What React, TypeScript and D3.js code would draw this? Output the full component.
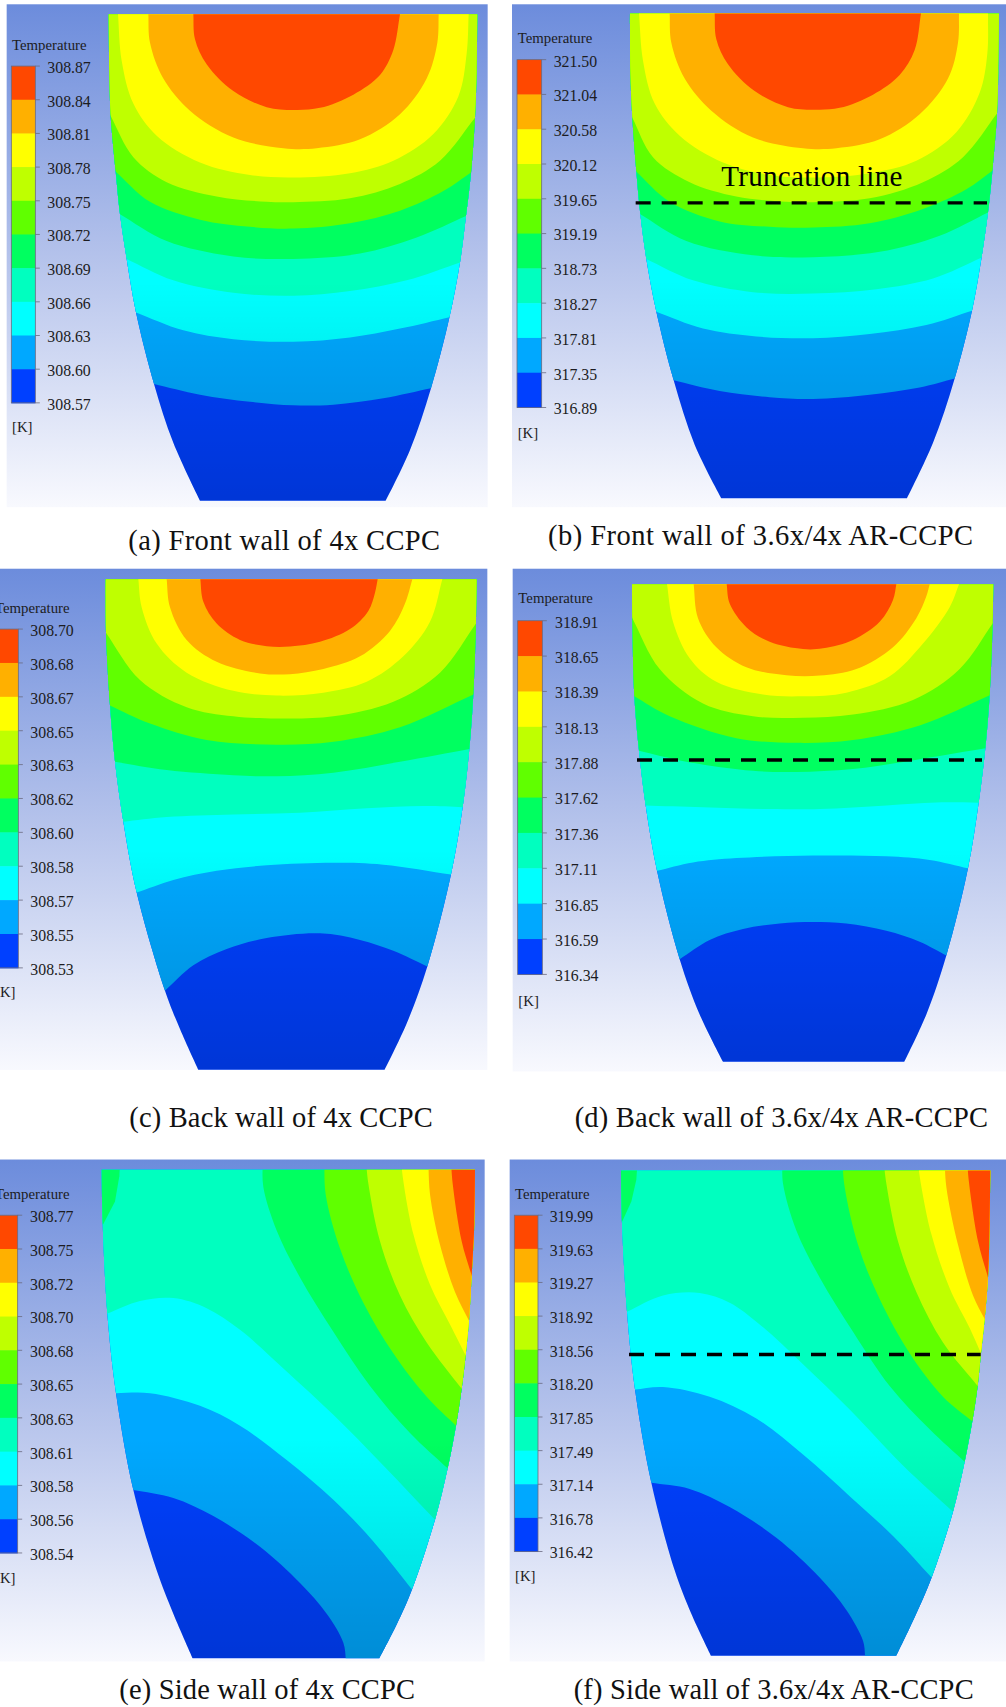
import React from "react";
import * as d3 from "d3";

type Pt = [number, number];

// Band colours, coldest to hottest
const bandColors = ["#0040ff", "#00a8ff", "#00ffff", "#00ffbf", "#00ff60", "#60ff00", "#bfff00", "#ffff00", "#ffb000", "#ff4800"];

// Legend tick labels, top to bottom
const ticksA = ["308.87", "308.84", "308.81", "308.78", "308.75", "308.72", "308.69", "308.66", "308.63", "308.60", "308.57"];
const ticksB = ["321.50", "321.04", "320.58", "320.12", "319.65", "319.19", "318.73", "318.27", "317.81", "317.35", "316.89"];
const ticksC = ["308.70", "308.68", "308.67", "308.65", "308.63", "308.62", "308.60", "308.58", "308.57", "308.55", "308.53"];
const ticksD = ["318.91", "318.65", "318.39", "318.13", "317.88", "317.62", "317.36", "317.11", "316.85", "316.59", "316.34"];
const ticksE = ["308.77", "308.75", "308.72", "308.70", "308.68", "308.65", "308.63", "308.61", "308.58", "308.56", "308.54"];
const ticksF = ["319.99", "319.63", "319.27", "318.92", "318.56", "318.20", "317.85", "317.49", "317.14", "316.78", "316.42"];

// Wall outlines
const leftA: Pt[] = [[326,40],[328,200],[332,325],[347,480],[360,600],[380,725],[408,875],[462,1075],[520,1240],[600,1402]];
const rightA: Pt[] = [[1432,40],[1430,200],[1425,330],[1413,485],[1398,605],[1380,735],[1348,890],[1293,1087],[1230,1260],[1157,1402]];
const leftB: Pt[] = [[381,38],[382,200],[388,330],[400,480],[412,600],[430,725],[460,873],[512,1065],[575,1245],[655,1395]];
const rightB: Pt[] = [[1488,38],[1486,200],[1482,320],[1468,480],[1455,595],[1435,725],[1407,870],[1355,1060],[1290,1240],[1212,1395]];
const leftC: Pt[] = [[317,53],[318,200],[330,400],[345,555],[370,720],[410,915],[495,1185],[540,1290],[595,1402]];
const rightC: Pt[] = [[1430,53],[1428,175],[1420,370],[1408,520],[1388,680],[1353,865],[1282,1118],[1220,1275],[1154,1402]];
const leftD: Pt[] = [[387,67],[388,160],[394,375],[408,525],[428,675],[462,855],[530,1098],[590,1250],[660,1380]];
const rightD: Pt[] = [[1471,67],[1469,175],[1460,372],[1447,518],[1427,668],[1395,848],[1330,1088],[1270,1250],[1204,1380]];
const leftE: Pt[] = [[305,82],[308,230],[322,480],[348,700],[400,968],[470,1190],[520,1310],[578,1433]];
const rightE: Pt[] = [[1425,82],[1423,230],[1415,375],[1407,500],[1397,595],[1385,688],[1368,790],[1343,908],[1305,1050],[1236,1243],[1190,1340],[1138,1433]];
const leftF: Pt[] = [[354,84],[357,230],[372,475],[396,690],[445,948],[515,1190],[565,1310],[624,1426]];
const rightF: Pt[] = [[1462,84],[1460,230],[1455,380],[1445,495],[1434,590],[1424,680],[1408,778],[1385,890],[1350,1028],[1286,1210],[1235,1320],[1180,1426]];

// Isotherms, coldest to hottest
const contoursA: Pt[][] = [
  [[462,1075],[600,1105],[750,1125],[880,1135],[1000,1133],[1150,1115],[1293,1087]],
  [[408,875],[550,925],[700,950],[880,957],[1050,945],[1200,920],[1348,888]],
  [[380,725],[520,785],[700,820],[880,828],[1050,815],[1220,785],[1380,735]],
  [[360,600],[500,675],[700,718],[880,725],[1080,710],[1250,665],[1398,605]],
  [[347,480],[450,565],[600,615],[750,635],[880,640],[1050,625],[1200,590],[1330,535],[1413,483]],
  [[332,325],[400,440],[500,510],[650,550],[800,565],[880,566],[1050,555],[1200,515],[1320,450],[1425,330]],
  [[354,40],[365,170],[400,290],[470,380],[600,455],[750,490],[880,497],[1050,485],[1180,450],[1300,375],[1375,270],[1400,150],[1406,40]],
  [[445,40],[450,120],[490,220],[570,310],[700,385],[850,415],[950,415],[1080,390],[1200,320],[1280,220],[1312,120],[1316,40]],
  [[580,40],[585,110],[620,180],[700,255],[800,300],[880,308],[960,302],[1060,265],[1140,210],[1180,140],[1200,40]],
];
const contoursB: Pt[][] = [
  [[512,1065],[650,1095],[800,1112],[930,1117],[1100,1105],[1250,1085],[1355,1060]],
  [[460,873],[600,920],[760,942],[930,947],[1100,935],[1270,910],[1407,870]],
  [[430,725],[570,785],[750,818],[930,822],[1120,810],[1290,780],[1435,722]],
  [[412,600],[550,675],[750,715],[930,720],[1130,705],[1310,660],[1455,595]],
  [[400,480],[500,565],[650,620],[800,635],[930,637],[1100,625],[1260,585],[1390,530],[1468,478]],
  [[388,330],[450,440],[560,510],[700,550],[850,565],[930,566],[1100,555],[1260,510],[1380,440],[1482,318]],
  [[408,38],[420,170],[455,290],[530,380],[660,455],[800,490],[930,497],[1100,485],[1240,450],[1360,370],[1430,260],[1453,150],[1455,38]],
  [[500,38],[505,120],[545,220],[625,310],[750,385],[900,415],[1000,415],[1130,390],[1250,320],[1335,220],[1365,120],[1368,38]],
  [[635,38],[640,110],[675,180],[755,255],[855,300],[930,307],[1010,302],[1110,265],[1190,210],[1235,140],[1254,38]],
];
const contoursC: Pt[][] = [
  [[495,1185],[580,1115],[680,1070],[800,1040],[960,1027],[1080,1045],[1180,1075],[1282,1118]],
  [[410,915],[520,880],[650,855],[800,840],[1000,833],[1150,838],[1353,865]],
  [[370,720],[500,707],[700,700],[900,695],[1100,683],[1270,677],[1388,680]],
  [[345,555],[500,578],[700,592],[830,595],[1000,585],[1200,555],[1408,520]],
  [[330,400],[450,450],[620,495],[830,508],[1000,500],[1200,460],[1420,370]],
  [[318,200],[420,330],[560,405],[700,430],[830,436],[1000,430],[1180,390],[1320,310],[1428,175]],
  [[415,53],[425,130],[470,230],[560,310],[700,360],[830,373],[970,365],[1100,335],[1210,265],[1290,170],[1327,53]],
  [[500,53],[510,130],[560,220],[650,280],[780,312],[870,314],[970,300],[1080,265],[1170,195],[1215,120],[1237,53]],
  [[601,53],[610,115],[650,175],[720,220],[800,237],[870,238],[960,225],[1050,190],[1105,140],[1125,90],[1133,53]],
];
const contoursD: Pt[][] = [
  [[530,1098],[620,1045],[720,1015],[830,1000],[930,996],[1030,1000],[1150,1020],[1250,1050],[1330,1088]],
  [[462,855],[570,832],[700,820],[930,813],[1150,815],[1280,825],[1395,848]],
  [[428,675],[600,680],[800,685],[950,685],[1150,675],[1300,667],[1427,668]],
  [[408,525],[550,555],[750,580],[880,583],[1050,575],[1250,548],[1447,518]],
  [[394,375],[500,430],[700,490],[880,503],[1050,495],[1250,455],[1460,372]],
  [[388,160],[470,300],[600,395],[750,430],[900,434],[1050,425],[1230,385],[1370,300],[1469,175]],
  [[492,67],[510,170],[560,270],[640,335],[780,370],[900,375],[1030,365],[1160,320],[1260,230],[1340,130],[1368,67]],
  [[572,67],[585,160],[640,240],[730,295],[850,317],[950,318],[1060,300],[1170,240],[1240,160],[1270,100],[1280,67]],
  [[671,67],[680,120],[730,185],[800,225],[900,245],[960,243],[1050,220],[1130,170],[1170,110],[1180,67]],
];
const contoursE: Pt[][] = [
  [[400,968],[520,990],[640,1040],[780,1125],[900,1225],[980,1310],[1030,1390],[1037,1433],[1037,1460]],
  [[348,700],[450,700],[600,735],[720,790],[860,885],[1000,995],[1120,1110],[1236,1243]],
  [[322,480],[420,445],[520,437],[620,465],[720,525],[860,640],[1000,760],[1150,900],[1305,1050]],
  [[788,60],[790,130],[830,250],[900,380],[1000,530],[1110,680],[1230,810],[1343,908]],
  [[973,60],[977,150],[1020,300],[1090,450],[1180,590],[1280,710],[1368,790]],
  [[1098,60],[1105,120],[1140,280],[1200,430],[1280,560],[1385,688]],
  [[1204,60],[1208,100],[1240,260],[1290,400],[1350,510],[1397,595]],
  [[1285,60],[1290,150],[1320,290],[1365,420],[1407,500]],
  [[1353,60],[1358,120],[1385,280],[1415,375]],
];
const contoursF: Pt[][] = [
  [[445,948],[560,965],[680,1015],[820,1100],[950,1210],[1030,1300],[1080,1385],[1086,1426],[1086,1460]],
  [[396,690],[480,683],[620,710],[760,770],[900,870],[1040,985],[1170,1095],[1286,1210]],
  [[372,475],[480,430],[590,423],[680,450],[770,510],[900,620],[1040,745],[1200,900],[1350,1028]],
  [[838,60],[840,120],[880,250],[950,380],[1050,530],[1160,680],[1280,800],[1385,890]],
  [[1018,60],[1025,130],[1065,290],[1130,440],[1220,590],[1320,710],[1408,778]],
  [[1142,60],[1150,120],[1185,280],[1240,420],[1320,560],[1424,680]],
  [[1245,60],[1250,100],[1285,260],[1340,410],[1400,520],[1434,590]],
  [[1325,60],[1330,130],[1365,290],[1410,430],[1445,495]],
  [[1393,60],[1397,110],[1425,280],[1455,380]],
];

// Small warm pocket in the top-left corner of the side walls
const patchE: Pt[] = [[250,40],[362,40],[358,100],[345,170],[310,232],[250,270]];
const patchF: Pt[] = [[300,40],[405,40],[400,110],[385,170],[358,225],[300,260]];

const panels = [
  { id: "a", ox: 0, oy: 0, h: 560, frame: [20, 12, 1463, 1420], left: leftA, right: rightA, contours: contoursA, ticks: ticksA,
    bar: [34, 106, 185, 1128], tickX: 142, title: [36, 127], unit: [36, 1197],
    caption: "(a) Front wall of 4x CCPC", cap: [385, 1540, 935] },
  { id: "b", ox: 503, oy: 0, h: 560, frame: [27, 12, 1509, 1420], left: leftB, right: rightB, contours: contoursB, ticks: ticksB,
    bar: [42, 116, 167, 1141], tickX: 152, title: [44, 107], unit: [44, 1215],
    caption: "(b) Front wall of 3.6x/4x AR-CCPC", cap: [135, 1525, 1275], dash: [398, 1452, 568] },
  { id: "c", ox: 0, oy: 560, h: 570, frame: [0, 24, 1462, 1403], left: leftC, right: rightC, contours: contoursC, ticks: ticksC,
    bar: [-20, 55, 190, 1122], tickX: 91, title: [-15, 133], unit: [-15, 1190],
    caption: "(c) Back wall of 4x CCPC", cap: [388, 1560, 910] },
  { id: "d", ox: 503, oy: 560, h: 570, frame: [29, 24, 1509, 1407], left: leftD, right: rightD, contours: contoursD, ticks: ticksD,
    bar: [44, 118, 167, 1140], tickX: 156, title: [46, 107], unit: [46, 1214],
    caption: "(d) Back wall of 3.6x/4x AR-CCPC", cap: [215, 1560, 1240], dash: [402, 1437, 550] },
  { id: "e", ox: 0, oy: 1140, h: 567, frame: [0, 54, 1454, 1442], left: leftE, right: rightE, contours: contoursE, ticks: ticksE,
    bar: [-20, 53, 208, 1142], tickX: 90, title: [-15, 150], unit: [-15, 1213],
    caption: "(e) Side wall of 4x CCPC", cap: [358, 1545, 887], patch: patchE },
  { id: "f", ox: 503, oy: 1140, h: 567, frame: [20, 54, 1509, 1442], left: leftF, right: rightF, contours: contoursF, ticks: ticksF,
    bar: [34, 105, 208, 1138], tickX: 140, title: [36, 151], unit: [36, 1208],
    caption: "(f) Side wall of 3.6x/4x AR-CCPC", cap: [212, 1545, 1200], patch: patchF, dash: [378, 1433, 593] },
];

const FONT = "'Liberation Serif', 'Times New Roman', serif";

function extend(pts: Pt[]): Pt[] {
  const n = pts.length;
  const a: Pt = [pts[0][0] - (pts[1][0] - pts[0][0]) * 0.5, pts[0][1] - (pts[1][1] - pts[0][1]) * 0.5];
  const b: Pt = [pts[n - 1][0] + (pts[n - 1][0] - pts[n - 2][0]) * 0.5, pts[n - 1][1] + (pts[n - 1][1] - pts[n - 2][1]) * 0.5];
  return [a, ...pts, b];
}

function Panel({ p }: { p: (typeof panels)[number] }) {
  const xs = d3.scaleLinear().domain([0, 1509]).range([p.ox, p.ox + 503]);
  const ys = d3.scaleLinear().domain([0, 1568]).range([p.oy, p.oy + p.h]);
  const line = d3.line<Pt>().x((d) => xs(d[0])).y((d) => ys(d[1])).curve(d3.curveCatmullRom.alpha(0.5));

  const [fx0, fy0, fx1, fy1] = p.frame;
  const rev = [...p.right].reverse();
  const outline = `${line(p.left)}L${line(rev)!.slice(1)}Z`;

  const region = (pts: Pt[]) => {
    const e = extend(pts);
    const first = e[0];
    const last = e[e.length - 1];
    return `${line(e)}L${xs(2000)},${ys(last[1])}L${xs(2000)},${ys(-100)}L${xs(-100)},${ys(-100)}L${xs(-100)},${ys(first[1])}Z`;
  };

  const [bx0, bx1, by0, by1] = p.bar;
  const bands = d3.scaleBand<number>().domain(d3.range(10)).range([ys(by0), ys(by1)]);
  const tickPos = d3.scaleLinear().domain([0, 10]).range([ys(by0), ys(by1)]);
  const yTop = ys(p.left[0][1]);
  const yBot = ys(p.left[p.left.length - 1][1]);

  return (
    <g>
      <rect x={xs(fx0)} y={ys(fy0)} width={xs(fx1) - xs(fx0)} height={ys(fy1) - ys(fy0)} fill="url(#bg)" />
      <clipPath id={`clip-${p.id}`}><path d={outline} /></clipPath>
      <g clipPath={`url(#clip-${p.id})`}>
        <rect x={xs(0)} y={ys(0)} width={503} height={p.h} fill={bandColors[0]} />
        {p.contours.map((c, i) => (
          <path key={i} d={region(c)} fill={bandColors[i + 1]} />
        ))}
        {p.patch && <path d={d3.line()(p.patch.map((d) => [xs(d[0]), ys(d[1])] as Pt)) + "Z"} fill={bandColors[4]} />}
        <rect x={xs(0)} y={yTop} width={503} height={yBot - yTop} fill="url(#shade)" />
      </g>
      {d3.range(10).map((i) => (
        <rect key={i} x={xs(bx0)} y={bands(i)!} width={xs(bx1) - xs(bx0)} height={bands.bandwidth() + 0.5} fill={bandColors[9 - i]} />
      ))}
      <rect x={xs(bx0)} y={ys(by0)} width={xs(bx1) - xs(bx0)} height={ys(by1) - ys(by0)} fill="none" stroke="#6b6b80" strokeWidth={0.8} />
      {p.ticks.map((t, i) => (
        <g key={t}>
          <line x1={xs(bx1)} x2={xs(bx1) + 4.5} y1={tickPos(i)} y2={tickPos(i)} stroke="#6b6b80" strokeWidth={0.8} />
          <text x={xs(p.tickX)} y={tickPos(i) + 1.7 + 5.2} fontFamily={FONT} fontSize={15.8} fill="#1c1c22">{t}</text>
        </g>
      ))}
      <text x={xs(p.title[0])} y={ys(p.title[1]) + 4.5} fontFamily={FONT} fontSize={14.8} fill="#1c1c22">Temperature</text>
      <text x={xs(p.unit[0])} y={ys(p.unit[1]) + 4.5} fontFamily={FONT} fontSize={14.8} fill="#1c1c22">[K]</text>
      {p.dash && (
        <line x1={xs(p.dash[0])} x2={xs(p.dash[1])} y1={ys(p.dash[2])} y2={ys(p.dash[2])} stroke="#000" strokeWidth={3.4} strokeDasharray="15 11" />
      )}
      {p.id === "b" && (
        <text x={xs(655)} y={ys(522)} fontFamily={FONT} fontSize={29} fill="#000" textLength={181} lengthAdjust="spacing">Truncation line</text>
      )}
      <text x={xs(p.cap[0])} y={ys(p.cap[1])} fontFamily={FONT} fontSize={28.5} fill="#111" textLength={p.cap[2] / 3} lengthAdjust="spacing">{p.caption}</text>
    </g>
  );
}

export default function App() {
  return (
    <svg width={1006} height={1707} viewBox="0 0 1006 1707" style={{ position: "absolute", left: 0, top: 0, background: "#fff" }}>
      <defs>
        <linearGradient id="bg" x1="0" y1="0" x2="0" y2="1">
          <stop offset="0" stopColor="#6c8cdc" />
          <stop offset="0.5" stopColor="#b4c2eb" />
          <stop offset="1" stopColor="#f8f9fe" />
        </linearGradient>
        <linearGradient id="shade" x1="0" y1="0" x2="0" y2="1">
          <stop offset="0.55" stopColor="#000" stopOpacity="0" />
          <stop offset="1" stopColor="#000" stopOpacity="0.16" />
        </linearGradient>
      </defs>
      {panels.map((p) => <Panel key={p.id} p={p} />)}
    </svg>
  );
}
